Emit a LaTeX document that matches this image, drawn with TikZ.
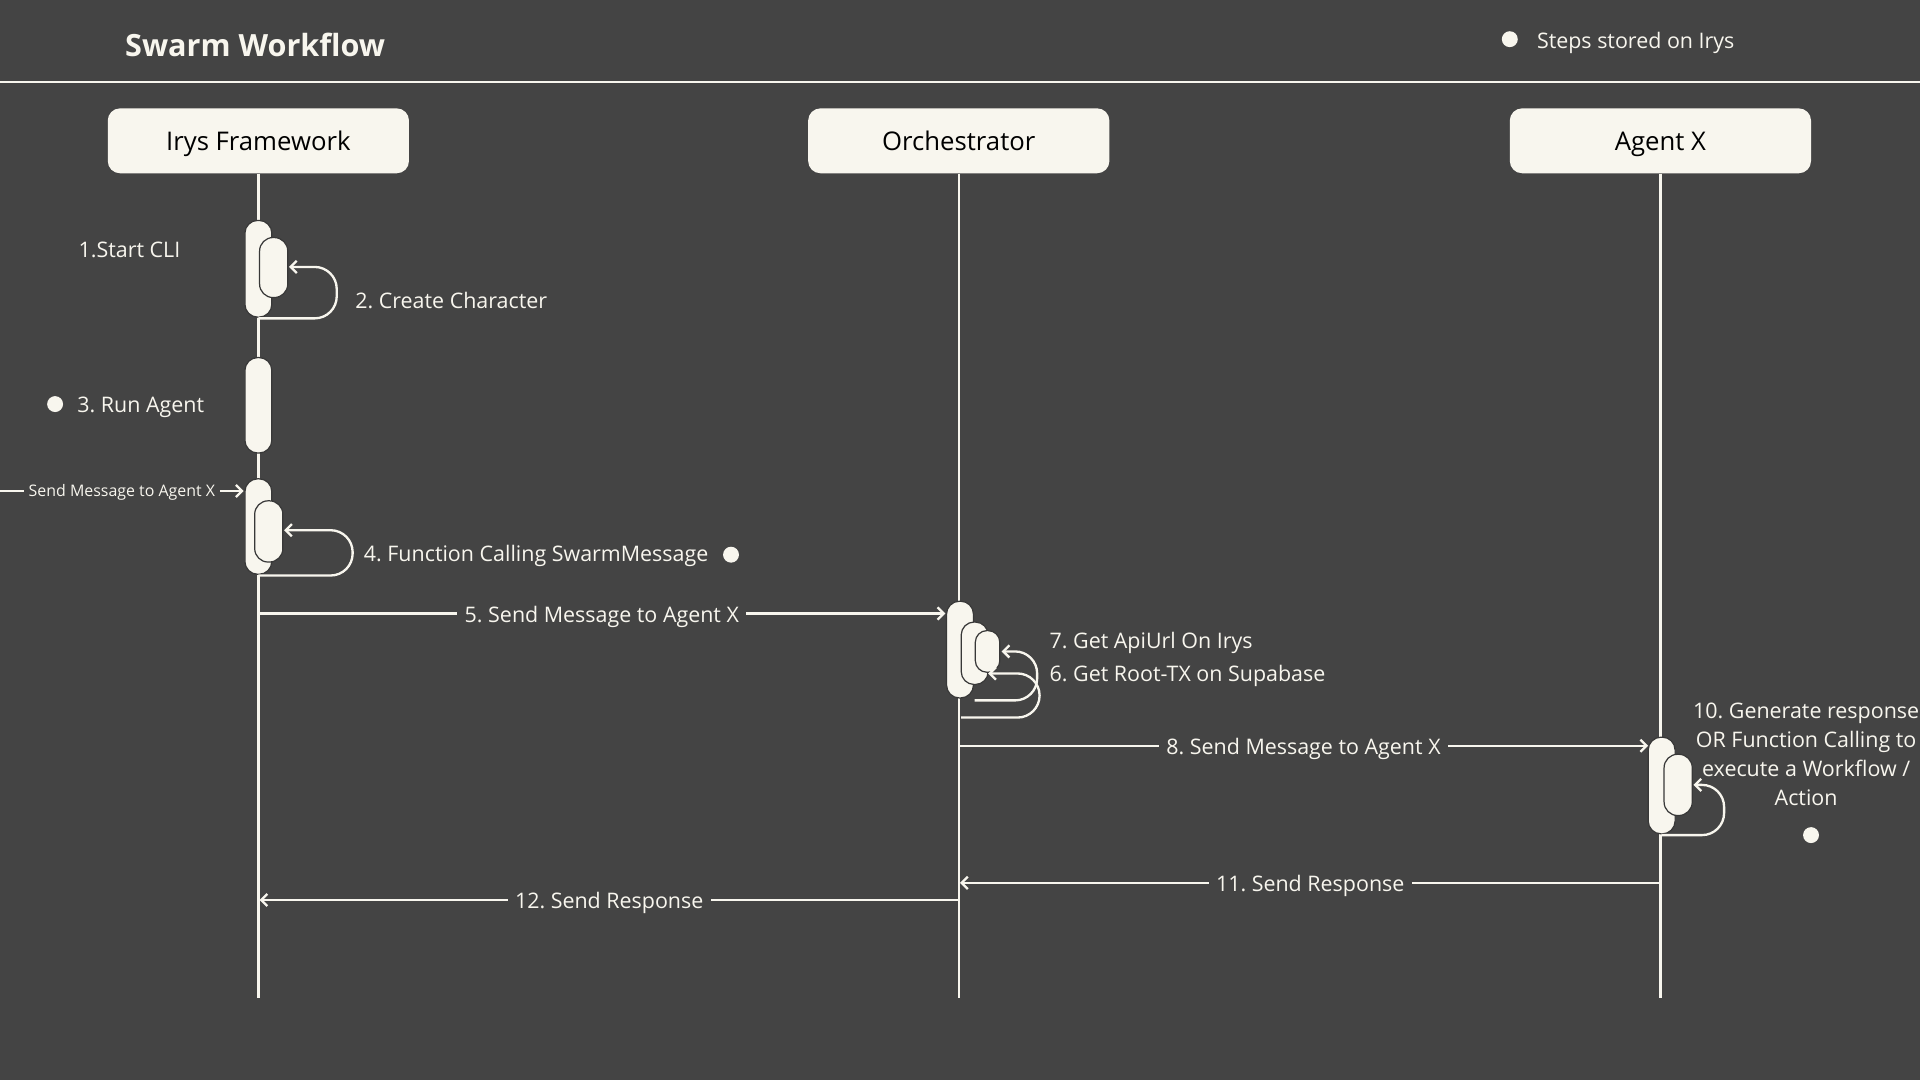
\documentclass[tikz,border=0pt]{standalone}
\usepackage{fontspec}
\setmainfont{Open Sans}
\usetikzlibrary{arrows.meta}
\definecolor{bg}{RGB}{68,68,68}
\definecolor{cream}{RGB}{248,246,238}
\definecolor{edge}{RGB}{56,56,56}
\frenchspacing
\begin{document}
\begin{tikzpicture}[x=1pt,y=-1pt,
  participant/.style={rectangle, rounded corners=10pt, fill=cream, minimum width=246pt, minimum height=53pt, font=\fontsize{21}{25}\selectfont, text=black, inner sep=0pt, text height=19pt, text depth=3pt},
  act/.style={rectangle, rounded corners=10.5pt, fill=cream, draw=edge, line width=1pt, minimum width=22pt, inner sep=0pt},
  lbl/.style={text=cream, font=\fontsize{17.5}{23.7}\selectfont, inner sep=0pt, text height=17.5pt, text depth=3pt},
  lblblock/.style={text=cream, font=\fontsize{17.5}{23.7}\selectfont, inner sep=0pt},
  smalllbl/.style={text=cream, font=\fontsize{13}{16}\selectfont, inner sep=0pt, text height=10.3pt, text depth=2pt},
  msg/.style={draw=cream, line width=1.9pt, -{Straight Barb[length=5pt,width=10pt]}},
  loopmsg/.style={msg, rounded corners=18pt},
  msglbl/.style={lbl, fill=bg, inner xsep=6pt, inner ysep=0pt},
  life/.style={draw=cream, line width=1.9pt},
  stored/.style={circle, fill=cream, minimum size=13pt, inner sep=0pt}]
\fill[bg] (0,0) rectangle (1568,882);
\useasboundingbox (0,0) rectangle (1568,882);

% header
\node[anchor=west, text=cream, font=\fontsize{25}{30}\selectfont\bfseries, inner sep=0pt, text height=21pt, text depth=3pt] (title) at (102,37) {Swarm Workflow};
\draw[cream, line width=1.5pt] (0,67) -- (1568,67);
\node[stored] (legdot) at (1233,32) {};
\node[lbl, anchor=west] (legtxt) at (1255,32) {Steps stored on Irys};

% participants
\node[participant] (irys) at (211,115) {Irys Framework};
\node[participant] (orch) at (783,115) {Orchestrator};
\node[participant] (agent) at (1356,115) {Agent X};

\coordinate (irysEnd) at (211,815);
\coordinate (orchEnd) at (783,815);
\coordinate (agentEnd) at (1356,815);
\draw[life] (irys.south) -- (irysEnd);
\draw[life] (orch.south) -- (orchEnd);
\draw[life] (agent.south) -- (agentEnd);

% Irys activations
\node[act, minimum height=79pt] (i1) at (211,219.5) {};
\node[act, minimum height=49pt, minimum width=23pt, rounded corners=11pt] (i1n) at (223.5,218.5) {};
\node[act, minimum height=78pt] (i2) at (211,331) {};
\node[act, minimum height=78pt] (i3) at (211,430) {};
\node[act, minimum height=50pt, minimum width=23pt, rounded corners=11pt] (i3n) at (219.5,434) {};

% Orchestrator activations
\node[act, minimum height=79pt] (o1) at (784,530.5) {};
\node[act, minimum height=51pt] (o1n) at (796,533.5) {};
\node[act, minimum height=34pt, minimum width=20pt, rounded corners=9.5pt] (o1nn) at (806.5,532) {};

% Agent activations
\node[act, minimum height=79pt] (a1) at (1357,641.5) {};
\node[act, minimum height=50pt, minimum width=23pt, rounded corners=11pt] (a1n) at (1370.5,641) {};

% self loops
\coordinate (l1s) at (211,260);
\coordinate (l1e) at (236,218);
\draw[loopmsg] (l1s) -- (275,260) -- (275,218) -- (l1e);
\coordinate (l2s) at (211,470);
\coordinate (l2e) at (232,433);
\draw[loopmsg] (l2s) -- (288,470) -- (288,433) -- (l2e);
\coordinate (l3s) at (785,586);
\coordinate (l3e) at (807,550);
\draw[loopmsg] (l3s) -- (849,586) -- (849,550) -- (l3e);
\coordinate (l4s) at (796,572);
\coordinate (l4e) at (818,532);
\draw[loopmsg] (l4s) -- (847,572) -- (847,532) -- (l4e);
\coordinate (l5s) at (1357,682);
\coordinate (l5e) at (1383,641);
\draw[loopmsg] (l5s) -- (1408,682) -- (1408,641) -- (l5e);

% found message
\coordinate (fm) at (0,401);
\coordinate (fmEnd) at (199,401);
\draw[msg] (fm) -- node[smalllbl, fill=bg, inner xsep=4pt, inner ysep=0pt] {Send Message to Agent X} (fmEnd);

% messages
\coordinate (m5s) at (211,501);
\coordinate (m5e) at (772,501);
\draw[msg] (m5s) -- node[msglbl] {5. Send Message to Agent X} (m5e);
\coordinate (m8s) at (783,609);
\coordinate (m8e) at (1346,609);
\draw[msg] (m8s) -- node[msglbl] {8. Send Message to Agent X} (m8e);
\coordinate (m11s) at (1356,721);
\coordinate (m11e) at (784,721);
\draw[msg] (m11s) -- node[msglbl] {11. Send Response} (m11e);
\coordinate (m12s) at (783,735);
\coordinate (m12e) at (212,735);
\draw[msg] (m12s) -- node[msglbl] {12. Send Response} (m12e);

% labels
\node[lbl, anchor=west] (t1) at (64,203) {1.Start CLI};
\node[lbl, anchor=west] (t2) at (290,245) {2. Create Character};
\node[stored] (d3) at (45,330) {};
\node[lbl, anchor=west] (t3) at (63,330) {3. Run Agent};
\node[lbl, anchor=west] (t4) at (297,451) {4. Function Calling SwarmMessage};
\node[stored] (d4) at (597,453) {};
\node[lbl, anchor=west] (t7) at (857,522) {7. Get ApiUrl On Irys};
\node[lbl, anchor=west] (t6) at (857,549) {6. Get Root-TX on Supabase};
\node[lblblock, align=center] (t10) at (1475,616) {10. Generate response\\OR Function Calling to\\execute a Workflow /\\Action};
\node[stored] (d10) at (1479,682) {};
\end{tikzpicture}
\end{document}
